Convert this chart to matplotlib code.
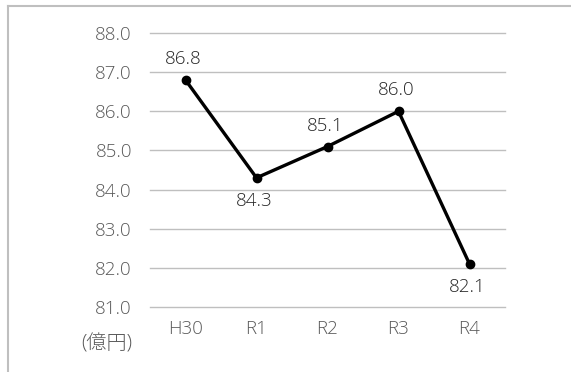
import matplotlib
matplotlib.use("Agg")
import matplotlib.pyplot as plt
from matplotlib.lines import Line2D

plt.rcParams['font.family'] = ['Open Sans', 'Noto Sans CJK JP', 'DejaVu Sans']
plt.rcParams['font.weight'] = 'light'

categories = ["H30", "R1", "R2", "R3", "R4"]
values = [86.8, 84.3, 85.1, 86.0, 82.1]
label_pos = ["above", "below", "above", "above", "below"]
yticks = [81.0, 82.0, 83.0, 84.0, 85.0, 86.0, 87.0, 88.0]
unit_label = "(億円)"

W, H = 571, 372
fig = plt.figure(figsize=(W / 100, H / 100), dpi=100)
ax = fig.add_axes([150 / W, 1 - 307 / H, 355 / W, 274 / H])

x = list(range(len(categories)))
ax.plot(x, values, color="black", lw=2.4, marker="o", ms=6, solid_joinstyle="miter", zorder=3)
for xi, v, p in zip(x, values, label_pos):
    off = 15 if p == "above" else -16.5
    ax.annotate(f"{v:.1f}", (xi, v), xytext=(-1.5, off), textcoords="offset points",
                ha="center", va="center", fontsize=13.5, color="#262626", fontweight="light")

ax.set_xlim(-0.5, len(categories) - 0.5)
ax.set_ylim(81.0, 88.0)
ax.set_yticks(yticks)
ax.set_yticklabels([f"{t:.1f}" for t in yticks])
ax.set_xticks(x)
ax.set_xticklabels(categories)
ax.grid(axis="y", color="#bfbfbf", lw=1)
for gl in ax.get_ygridlines():
    gl.set_clip_on(False)
ax.set_axisbelow(True)
for s in ax.spines.values():
    s.set_visible(False)
ax.tick_params(axis="both", length=0, labelsize=13.5, colors="#595959")
ax.tick_params(axis="y", pad=13)
ax.tick_params(axis="x", pad=9)

fig.text(132 / W, 1 - 344 / H, unit_label, ha="right", va="center", fontsize=14.5,
         color="#595959", fontweight="light")

# outer frame (partially visible)
fig.add_artist(Line2D([8 / W, 1], [1 - 6 / H, 1 - 6 / H], transform=fig.transFigure, color="#bfbfbf", lw=1.5))
fig.add_artist(Line2D([8 / W, 8 / W], [0, 1 - 6 / H], transform=fig.transFigure, color="#bfbfbf", lw=1.5))

fig.savefig("out.png", dpi=100)
